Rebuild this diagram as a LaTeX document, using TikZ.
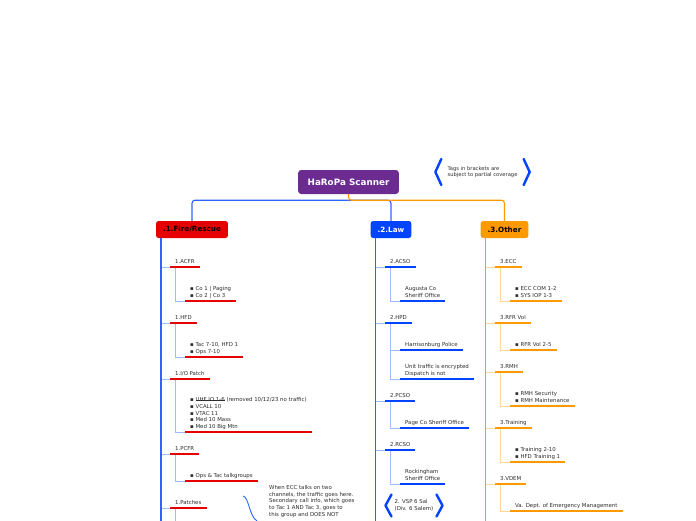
\documentclass[tikz,border=0pt]{standalone}
\usepackage{fontspec}
\setmainfont{DejaVu Sans}
\usetikzlibrary{calc,positioning}
\definecolor{hpPurple}{RGB}{107,43,145}
\definecolor{hpRed}{RGB}{230,0,0}
\definecolor{hpBlue}{RGB}{0,68,255}
\definecolor{hpOrange}{RGB}{255,153,0}
\definecolor{hpTrunk}{RGB}{45,100,255}
\definecolor{hpPaleBlue}{RGB}{160,188,255}
\definecolor{hpPaleOrange}{RGB}{255,215,150}
\definecolor{hpText}{RGB}{45,45,45}
\newlength\strklen
\newcommand\strk[1]{\settowidth\strklen{#1}\rlap{#1}\rule[0.32em]{\strklen}{0.35pt}}
\tikzset{
  rootbox/.style={fill=hpPurple, text=white, rounded corners=3pt, inner xsep=9.5pt,
    minimum height=24pt, font=\fontsize{8.8}{10}\selectfont\bfseries},
  branchbox/.style={rounded corners=2.5pt, inner xsep=7pt, minimum height=17pt,
    font=\fontsize{7.2}{8}\selectfont\bfseries},
  topic/.style={anchor=south west, align=left, inner xsep=5pt, inner ysep=2pt,
    text depth=1.5pt, text=hpText, font=\fontsize{5.4}{6.6}\selectfont},
  remark/.style={align=left, inner sep=0pt, text=hpText, font=\fontsize{5.4}{6.8}\selectfont},
  bar/.style={line width=2.9pt},
  trunk/.style={line width=1.8pt},
  twig/.style={line width=0.9pt},
  stem/.style={line width=1.1pt, rounded corners=3pt},
  chevron/.style={hpBlue, line width=2.4pt, line cap=round, line join=round}
}

\begin{document}
\begin{tikzpicture}[x=1pt, y=-1pt]
  \fill[white] (0,0) rectangle (696,520);
  \useasboundingbox (0,0) rectangle (696,520);
  \clip (0,0) rectangle (696,520);

  \node[rootbox] (root) at (348.5,182) {HaRoPa Scanner};
  \node[branchbox, fill=hpRed] (fire) at (192,229.5) {.1.Fire/Rescue};
  \node[branchbox, fill=hpBlue, text=white] (law) at (391,229.5) {.2.Law};
  \node[branchbox, fill=hpOrange] (other) at (504.5,229.5) {.3.Other};

  \node[remark, inner xsep=8pt, inner ysep=7pt, font=\fontsize{5.2}{6.6}\selectfont] (tags) at (482.5,172)
    {Tags in brackets are\\subject to partial coverage};

  % fire / rescue
  \node[topic] (acfr) at (170,267) {1.ACFR};
  \node[topic] (acfrKid) at (185,301) {▪ Co 1 | Paging\\▪ Co 2 | Co 3};
  \node[topic] (hfd) at (170,323) {1.HFD};
  \node[topic] (hfdKid) at (185,357) {▪ Tac 7-10, HFD 1\\▪ Ops 7-10};
  \node[topic] (iop) at (170,379) {1.I/O Patch};
  \node[topic] (iopKid) at (185,432) {▪ \strk{UHF IO 1-6} (removed 10/12/23 no traffic)\\▪ VCALL 10\\▪ VTAC 11\\▪ Med 10 Mass\\▪ Med 10 Big Mtn};
  \node[topic] (pcfr) at (170,454) {1.PCFR};
  \node[topic] (pcfrKid) at (185,481) {▪ Ops \& Tac talkgroups};
  \node[topic] (patches) at (170,508) {1.Patches};
  \node[remark, anchor=north west] (ecchint) at (269,485)
    {When ECC talks on two\\channels, the traffic goes here.\\Secondary call info, which goes\\to Tac 1 AND Tac 3, goes to\\this group and DOES NOT};

  % law
  \node[topic] (acso) at (385,267) {2.ACSO};
  \node[topic] (acsoKid) at (400,301) {Augusta Co\\Sheriff Office};
  \node[topic] (hpd) at (385,323) {2.HPD};
  \node[topic] (hpdKidA) at (400,350) {Harrisonburg Police};
  \node[topic] (hpdKidB) at (400,379) {Unit traffic is encrypted\\Dispatch is not};
  \node[topic] (pcso) at (385,401) {2.PCSO};
  \node[topic] (pcsoKid) at (400,428) {Page Co Sheriff Office};
  \node[topic] (rcso) at (385,450) {2.RCSO};
  \node[topic] (rcsoKid) at (400,484) {Rockingham\\Sheriff Office};
  \node[remark, inner xsep=5pt, inner ysep=5pt] (vsp) at (414,505.5) {2. VSP 6 Sal\\(Div. 6 Salem)};

  % other
  \node[topic] (ecc) at (495,267) {3.ECC};
  \node[topic] (eccKid) at (510,301) {▪ ECC COM 1-2\\▪ SYS IOP 1-3};
  \node[topic] (rfr) at (495,323) {3.RFR Vol};
  \node[topic] (rfrKid) at (510,350) {▪ RFR Vol 2-5};
  \node[topic] (rmh) at (495,372) {3.RMH};
  \node[topic] (rmhKid) at (510,406) {▪ RMH Security\\▪ RMH Maintenance};
  \node[topic] (training) at (495,428) {3.Training};
  \node[topic] (trainingKid) at (510,462) {▪ Training 2-10\\▪ HFD Training 1};
  \node[topic] (vdem) at (495,484) {3.VDEM};
  \node[topic] (vdemKid) at (510,511) {Va. Dept. of Emergency Management};

  % stems from the root
  \coordinate (hub) at ($(root.south)+(0,6)$);
  \draw[stem, hpTrunk] (hub) -| (fire.north);
  \draw[stem, hpTrunk] (hub) -| (law.north);
  \draw[stem, hpOrange] (root.south) -- (hub) -| (other.north);

  % twigs
  \foreach \t in {acfr,hfd,iop,pcfr,patches}
    \draw[twig, hpPaleBlue] ($(fire.south west)+(5,0)$) |- (\t.south west);
  \foreach \t/\k in {acfr/acfrKid,hfd/hfdKid,iop/iopKid,pcfr/pcfrKid}
    \draw[twig, hpPaleBlue] ($(\t.south west)+(5,0)$) |- (\k.south west);
  \draw[twig, hpPaleBlue] ($(patches.south west)+(5,0)$) -- ++(0,30);
  \foreach \t in {acso,hpd,pcso,rcso}
    \draw[twig, hpPaleBlue] ($(law.south west)+(5,0)$) |- (\t.south west);
  \foreach \t/\k in {acso/acsoKid,hpd/hpdKidA,hpd/hpdKidB,pcso/pcsoKid,rcso/rcsoKid}
    \draw[twig, hpPaleBlue] ($(\t.south west)+(5,0)$) |- (\k.south west);
  \foreach \t in {ecc,rfr,rmh,training,vdem}
    \draw[twig, hpPaleOrange] ($(other.south west)+(5,0)$) |- (\t.south west);
  \foreach \t/\k in {ecc/eccKid,rfr/rfrKid,rmh/rmhKid,training/trainingKid,vdem/vdemKid}
    \draw[twig, hpPaleOrange] ($(\t.south west)+(5,0)$) |- (\k.south west);

  % trunks
  \draw[trunk, hpTrunk] ($(fire.south west)+(5,0)$) -- ++(0,320);
  \draw[trunk, hpTrunk] ($(law.south west)+(5,0)$) -- ++(0,320);
  \draw[trunk, hpOrange] ($(other.south west)+(5,0)$) -- ++(0,320);

  % underlines
  \foreach \n in {acfr,acfrKid,hfd,hfdKid,iop,iopKid,pcfr,pcfrKid,patches}
    \draw[bar, hpRed] (\n.south west) -- (\n.south east);
  \foreach \n in {acso,acsoKid,hpd,hpdKidA,hpdKidB,pcso,pcsoKid,rcso,rcsoKid}
    \draw[bar, hpBlue] (\n.south west) -- (\n.south east);
  \foreach \n in {ecc,eccKid,rfr,rfrKid,rmh,rmhKid,training,trainingKid,vdem,vdemKid}
    \draw[bar, hpOrange] (\n.south west) -- (\n.south east);

  % bracket tags
  \foreach \t in {tags,vsp} {
    \draw[chevron] ($(\t.north west)+(2,0)$) -- ($(\t.west)+(-4,0)$) -- ($(\t.south west)+(2,0)$);
    \draw[chevron] ($(\t.north east)+(-2,0)$) -- ($(\t.east)+(4,0)$) -- ($(\t.south east)+(-2,0)$);
  }

  % brace by the patches note
  \draw[hpTrunk, line width=0.9pt] ($(ecchint.north west)+(-26,11)$)
    .. controls ($(ecchint.north west)+(-20,12)$) and ($(ecchint.north west)+(-20,31)$)
    .. ($(ecchint.north west)+(-12,36)$);
\end{tikzpicture}
\end{document}
